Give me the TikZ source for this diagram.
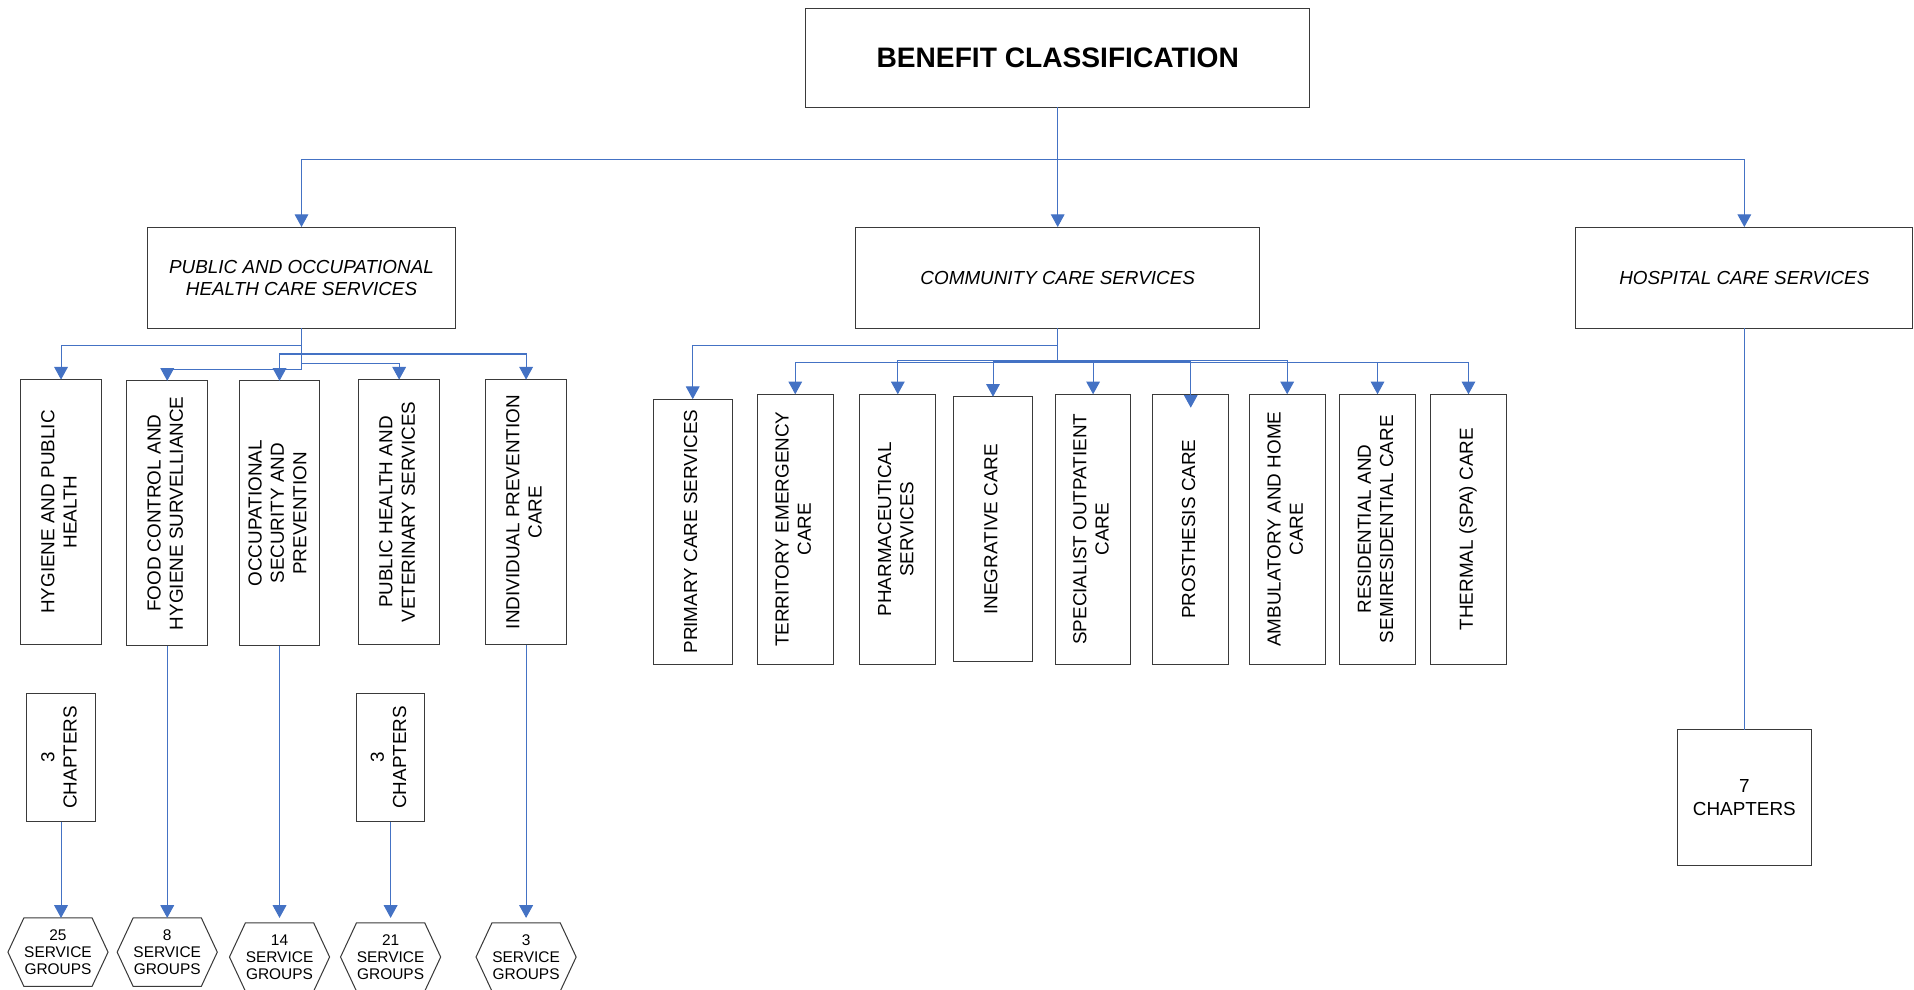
\documentclass[tikz,border=0pt]{standalone}
\usepackage{fontspec}
\setmainfont{Liberation Sans}
\usepackage{tikz}
\usetikzlibrary{arrows.meta,shapes.symbols}

\definecolor{linkblue}{HTML}{4472C4}
\definecolor{boxline}{HTML}{3A3A3A}

\newcommand{\vt}[1]{\rotatebox{90}{\begin{tabular}{@{}c@{}}#1\end{tabular}}}

\begin{document}
\begin{tikzpicture}[x=0.025cm, y=-0.025cm,
    every node/.style={font=\fontsize{11}{13}\selectfont, inner sep=0pt, outer sep=0pt},
    box/.style 2 args={draw=boxline, line width=0.6pt, rectangle, minimum width=#1*0.025cm, minimum height=#2*0.025cm},
    hexa/.style={draw=boxline, line width=0.6pt, signal, signal to=west and east, signal pointer angle=130, minimum width=2.05cm, minimum height=1.4cm, align=center, font=\fontsize{9}{10}\selectfont},
    link/.style={draw=linkblue, line width=0.6pt, -{Triangle[width=2.8mm,length=2.6mm]}},
    plain/.style={draw=linkblue, line width=0.6pt}]

    \useasboundingbox (0,0) rectangle (1568,811);

    % Nodes
    \node[box={413}{81}, font=\fontsize{16.4}{19}\selectfont\bfseries] (top) at (866.5,47.5) {BENEFIT CLASSIFICATION};
    \node[box={252}{83}, align=center, font=\fontsize{11}{13}\selectfont\itshape] (pub) at (247,227.5) {PUBLIC AND OCCUPATIONAL\\HEALTH CARE SERVICES};
    \node[box={331}{83}, font=\fontsize{11}{13}\selectfont\itshape] (com) at (866.5,227.5) {COMMUNITY CARE SERVICES};
    \node[box={276}{83}, font=\fontsize{11}{13}\selectfont\itshape] (hosp) at (1429,227.5) {HOSPITAL CARE SERVICES};

    % public and occupational branch
    \node[box={66}{217}] (hyg) at (50,419.5) {\vt{HYGIENE AND PUBLIC\\HEALTH}};
    \node[box={66}{217}] (food) at (137,420.5) {\vt{FOOD CONTROL AND\\HYGIENE SURVELLIANCE}};
    \node[box={66}{217}] (occ) at (229,420.5) {\vt{OCCUPATIONAL\\SECURITY AND\\PREVENTION}};
    \node[box={66}{217}] (vet) at (327,419.5) {\vt{PUBLIC HEALTH AND\\VETERINARY SERVICES}};
    \node[box={66}{217}] (ind) at (431,419.5) {\vt{INDIVIDUAL PREVENTION\\CARE}};

    \node[box={56}{105}] (ch1) at (50,620.5) {\vt{3\\CHAPTERS}};
    \node[box={56}{105}] (ch2) at (320,620.5) {\vt{3\\CHAPTERS}};

    \node[hexa] (hx1) at (47.5,780) {25\\SERVICE\\GROUPS};
    \node[hexa] (hx2) at (137,780) {8\\SERVICE\\GROUPS};
    \node[hexa] (hx3) at (229,784) {14\\SERVICE\\GROUPS};
    \node[hexa] (hx4) at (320,784) {21\\SERVICE\\GROUPS};
    \node[hexa] (hx5) at (431,784) {3\\SERVICE\\GROUPS};

    % community branch
    \node[box={65}{217}] (pri) at (567.5,435.5) {\vt{PRIMARY CARE SERVICES}};
    \node[box={62}{221}] (ter) at (651.5,433.5) {\vt{TERRITORY EMERGENCY\\CARE}};
    \node[box={62}{221}] (pha) at (735.5,433.5) {\vt{PHARMACEUTICAL\\SERVICES}};
    \node[box={65}{217}] (ineg) at (813.5,433.5) {\vt{INEGRATIVE CARE}};
    \node[box={62}{221}] (spe) at (895.5,433.5) {\vt{SPECIALIST OUTPATIENT\\CARE}};
    \node[box={62}{221}] (pro) at (975.5,433.5) {\vt{PROSTHESIS CARE}};
    \node[box={62}{221}] (amb) at (1054.5,433.5) {\vt{AMBULATORY AND HOME\\CARE}};
    \node[box={62}{221}] (res) at (1128.5,433.5) {\vt{RESIDENTIAL AND\\SEMIRESIDENTIAL CARE}};
    \node[box={62}{221}] (the) at (1203,433.5) {\vt{THERMAL (SPA) CARE}};

    % hospital branch
    \node[box={110}{111}, align=center] (ch7) at (1429,653.5) {7\\CHAPTERS};

    % Paths
    \coordinate (tbus) at (866.5,131);
    \draw[plain] (top.south) -- (tbus);
    \draw[link] (tbus) -| (pub.north);
    \draw[link] (tbus) -- (com.north);
    \draw[link] (tbus) -| (hosp.north);

    \coordinate (pb1) at (247,283);
    \coordinate (pb2) at (247,290);
    \coordinate (pb3) at (247,298);
    \coordinate (pb4) at (247,303);
    \draw[link] (pub.south) -- (pb1) -| (hyg.north);
    \draw[link] (pub.south) -- (pb4) -| (food.north);
    \draw[link] (pub.south) -- (pb2) -| (occ.north);
    \draw[link] (pub.south) -- (pb3) -| (vet.north);
    \draw[link] (pub.south) -- (pb2) -| (ind.north);

    \draw[link] (ch1.south) -- (ch1.south |- hx1.north);
    \draw[link] (food.south) -- (hx2.north);
    \draw[link, shorten >=1mm] (occ.south) -- (hx3.north);
    \draw[link, shorten >=1mm] (ch2.south) -- (hx4.north);
    \draw[link, shorten >=1mm] (ind.south) -- (hx5.north);

    \coordinate (cb1) at (866.5,283);
    \coordinate (cb2) at (866.5,295);
    \coordinate (cb3) at (866.5,296);
    \coordinate (cb4) at (866.5,297);
    \draw[link] (com.south) -- (cb1) -| (pri.north);
    \draw[link] (com.south) -- (cb4) -| (ter.north);
    \draw[link] (com.south) -- (cb2) -| (pha.north);
    \draw[link] (com.south) -- (cb3) -| (ineg.north);
    \draw[link] (com.south) -- (cb4) -| (spe.north);
    \draw[link, shorten >=-2.75mm] (com.south) -- (cb3) -| (pro.north);
    \draw[link] (com.south) -- (cb2) -| (amb.north);
    \draw[link] (com.south) -- (cb4) -| (res.north);
    \draw[link] (com.south) -- (cb4) -| (the.north);

    \draw[plain] (hosp.south) -- (ch7.north);
\end{tikzpicture}
\end{document}
